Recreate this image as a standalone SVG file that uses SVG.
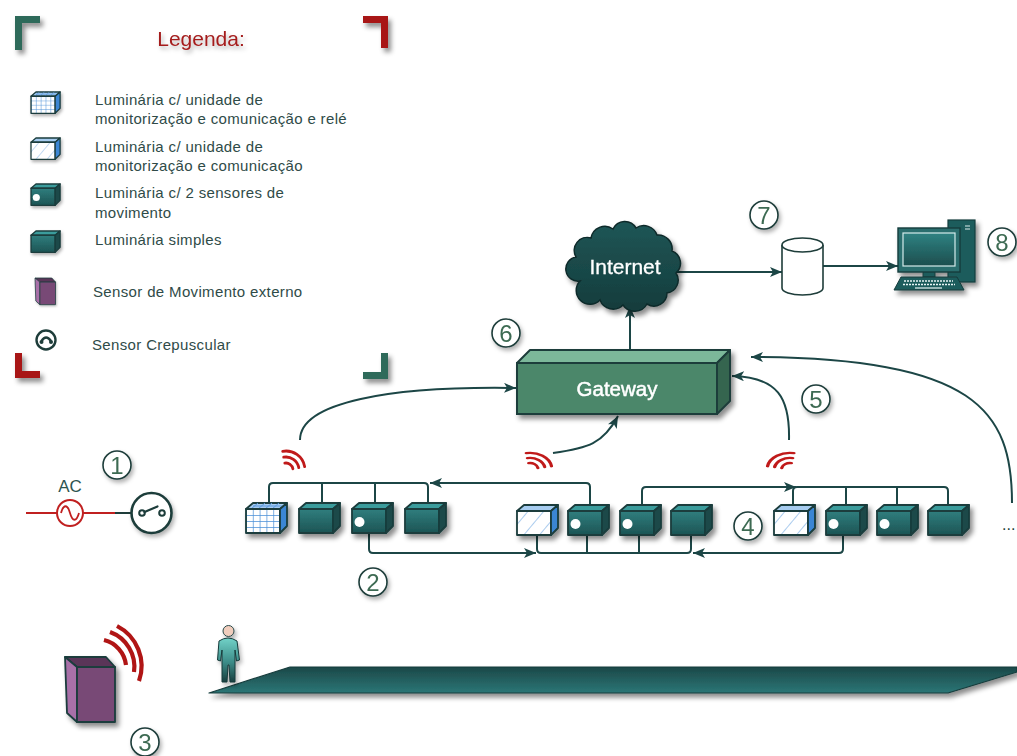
<svg xmlns="http://www.w3.org/2000/svg" xmlns:xlink="http://www.w3.org/1999/xlink" width="1017" height="756" viewBox="0 0 1017 756">
  <style>
    .legend-text { font-family: "Liberation Sans", Arial, sans-serif; font-size: 15px; letter-spacing: 0.35px; fill: #2f4b48; }
    .num-circle { fill: #ffffff; stroke: #1e3d3a; stroke-width: 1.6; }
    .num-text { font-family: "Liberation Sans", Arial, sans-serif; font-size: 24px; fill: #3d6b52; text-anchor: middle; }
    .edge { fill: none; stroke: #1c4646; stroke-width: 2; stroke-linejoin: round; }
    .edge-arrow { fill: none; stroke: #1c4646; stroke-width: 2; marker-end: url(#arrow); }
    .wave { fill: none; stroke: #c01a1a; stroke-width: 2.8; stroke-linecap: round; }
    .cube-line { stroke: #1a3c3c; stroke-width: 1.8; stroke-linejoin: round; }
    .white-label { font-family: "Liberation Sans", Arial, sans-serif; fill: #ffffff; text-anchor: middle; }
  </style>
  <defs>
    <filter id="shadow" x="-30%" y="-30%" width="170%" height="170%">
      <feDropShadow dx="3" dy="4" stdDeviation="2.5" flood-color="#000000" flood-opacity="0.45"/>
    </filter>
    <filter id="soft-shadow" x="-30%" y="-30%" width="170%" height="170%">
      <feDropShadow dx="2" dy="3" stdDeviation="2" flood-color="#000000" flood-opacity="0.3"/>
    </filter>
    <marker id="arrow" markerUnits="userSpaceOnUse" markerWidth="14" markerHeight="12" refX="12" refY="5" orient="auto">
      <path d="M0,0 L12,5 L0,10 L3,5 Z" fill="#1c4646"/>
    </marker>
    <linearGradient id="cube-front" x1="0" y1="0" x2="0" y2="1">
      <stop offset="0" stop-color="#307e7e"/>
      <stop offset="1" stop-color="#1c5454"/>
    </linearGradient>
    <linearGradient id="cloud-fill" x1="0" y1="0" x2="0" y2="1">
      <stop offset="0" stop-color="#1f5656"/>
      <stop offset="1" stop-color="#143c3c"/>
    </linearGradient>
    <linearGradient id="floor-fill" x1="0" y1="0" x2="0" y2="1">
      <stop offset="0" stop-color="#1c4848"/>
      <stop offset="1" stop-color="#2b7676"/>
    </linearGradient>
    <linearGradient id="screen-fill" x1="0" y1="0" x2="0" y2="1">
      <stop offset="0" stop-color="#2f8282"/>
      <stop offset="1" stop-color="#1c4e4e"/>
    </linearGradient>
    <linearGradient id="person-fill" x1="0" y1="0" x2="0" y2="1">
      <stop offset="0" stop-color="#72d2c8"/>
      <stop offset="0.55" stop-color="#3c8c88"/>
      <stop offset="1" stop-color="#183e3e"/>
    </linearGradient>
    <pattern id="grid" patternUnits="userSpaceOnUse" x="0" y="6" width="6.8" height="6">
      <rect width="6.8" height="6" fill="#ffffff"/>
      <path d="M0,0 H6.8 M0,0 V6" stroke="#4a8fd8" stroke-width="1.4"/>
    </pattern>
    <pattern id="hatch" patternUnits="userSpaceOnUse" x="0" y="6" width="12" height="12" patternTransform="rotate(40)">
      <rect x="-1" y="-1" width="14" height="14" fill="#ffffff"/>
      <path d="M0,-1 V13" stroke="#7eb0e6" stroke-width="1.3"/>
    </pattern>

    <!-- luminaire cubes: front face 34x24, depth 7 -->
    <g id="lum-simple">
      <path class="cube-line" d="M0,6 L7,0 L41,0 L34,6 Z" fill="#3a9c9c"/>
      <rect class="cube-line" x="0" y="6" width="34" height="24" fill="url(#cube-front)"/>
      <path class="cube-line" d="M34,6 L41,0 L41,23 L34,30 Z" fill="#1b4848"/>
    </g>
    <g id="lum-sensor">
      <use href="#lum-simple"/>
      <circle cx="7.5" cy="19" r="5" fill="#ffffff"/>
    </g>
    <g id="lum-relay">
      <path class="cube-line" d="M0,6 L7,0 L41,0 L34,6 Z" fill="#a6ccf0"/>
      <path d="M7,3 H38 M12,0 L5,6 M19,0 L12,6 M26,0 L19,6 M33,0 L26,6" stroke="#5c9ade" stroke-width="1"/>
      <rect class="cube-line" x="0" y="6" width="34" height="24" fill="url(#grid)"/>
      <path class="cube-line" d="M34,6 L41,0 L41,23 L34,30 Z" fill="#3b86d4"/>
    </g>
    <g id="lum-monitor">
      <path class="cube-line" d="M0,6 L7,0 L41,0 L34,6 Z" fill="#a6ccf0"/>
      <rect class="cube-line" x="0" y="6" width="34" height="24" fill="url(#hatch)"/>
      <path class="cube-line" d="M34,6 L41,0 L41,23 L34,30 Z" fill="#3b86d4"/>
    </g>
    <!-- external motion sensor box -->
    <g id="motion-box">
      <path class="cube-line" d="M0,0 L41,0 L50,10 L12,10 Z" fill="#5a3558"/>
      <path class="cube-line" d="M0,0 L12,10 L12,65 L2,56 Z" fill="#a870a8"/>
      <rect class="cube-line" x="12" y="10" width="38" height="55" fill="#784a76"/>
    </g>
    <!-- switch symbol -->
    <g id="switch-symbol">
      <circle cx="0" cy="0" r="20" fill="#ffffff" stroke="#1e3d3a" stroke-width="2.6"/>
      <circle cx="-9.5" cy="0" r="2.8" fill="none" stroke="#1e3d3a" stroke-width="2"/>
      <circle cx="10.5" cy="0" r="2.8" fill="none" stroke="#1e3d3a" stroke-width="2"/>
      <path d="M-7,-1 L6,-6.5" stroke="#1e3d3a" stroke-width="2.2" stroke-linecap="round"/>
    </g>
    <!-- radio waves, centred at lower-left -->
    <g id="radio-waves">
      <path class="wave" d="M-1.2,-6.9 A7,7 0 0 1 6.9,-1.2"/>
      <path class="wave" d="M-2.3,-12.8 A13,13 0 0 1 12.8,-2.3"/>
      <path class="wave" d="M-3.3,-18.7 A19,19 0 0 1 18.7,-3.3"/>
    </g>
  </defs>

  <!-- legend frame corners -->
  <g id="legend-frame" filter="url(#shadow)">
    <path d="M15,16 H40 V23 H22 V50 H15 Z" fill="#2e6a5a"/>
    <path d="M363,16 H388 V48 H381 V23 H363 Z" fill="#a81818"/>
    <path d="M15,353 H22 V371 H40 V378 H15 Z" fill="#a81818"/>
    <path d="M381,353 H388 V379 H363 V372 H381 Z" fill="#2e6a5a"/>
  </g>
  <text id="legend-title" x="201" y="46" font-family="Liberation Sans, Arial, sans-serif" font-size="21" fill="#a41c1c" text-anchor="middle" filter="url(#soft-shadow)">Legenda:</text>

  <!-- legend entries -->
  <g id="legend-relay">
    <use href="#lum-relay" transform="translate(31,92) scale(0.71)" filter="url(#soft-shadow)"/>
    <text class="legend-text" x="95" y="105">Luminária c/ unidade de</text>
    <text class="legend-text" x="95" y="124">monitorização e comunicação e relé</text>
  </g>
  <g id="legend-monitor">
    <use href="#lum-monitor" transform="translate(31,138) scale(0.71)" filter="url(#soft-shadow)"/>
    <text class="legend-text" x="95" y="152">Luminária c/ unidade de</text>
    <text class="legend-text" x="95" y="171">monitorização e comunicação</text>
  </g>
  <g id="legend-sensor">
    <use href="#lum-sensor" transform="translate(31,184) scale(0.71)" filter="url(#soft-shadow)"/>
    <text class="legend-text" x="95" y="198">Luminária c/ 2 sensores de</text>
    <text class="legend-text" x="95" y="218">movimento</text>
  </g>
  <g id="legend-simple">
    <use href="#lum-simple" transform="translate(31,231) scale(0.71)" filter="url(#soft-shadow)"/>
    <text class="legend-text" x="95" y="245">Luminária simples</text>
  </g>
  <g id="legend-motion">
    <use href="#motion-box" transform="translate(35,278) scale(0.41)" filter="url(#soft-shadow)"/>
    <text class="legend-text" x="93" y="297">Sensor de Movimento externo</text>
  </g>
  <g id="legend-dusk">
    <circle cx="46" cy="340" r="9.5" fill="#ffffff" stroke="#1e3d3a" stroke-width="2.4"/>
    <circle cx="41.5" cy="342" r="2" fill="#1e3d3a"/>
    <circle cx="51" cy="342" r="2" fill="#1e3d3a"/>
    <path d="M41.5,341 Q46,334 51,341" fill="none" stroke="#1e3d3a" stroke-width="2.4"/>
    <text class="legend-text" x="92" y="350">Sensor Crepuscular</text>
  </g>

  <!-- connectors -->
  <g id="connectors">
    <!-- lower street: luminaire bus lines -->
    <path class="edge" d="M269,503 V487 Q269,483 273,483 H424 Q428,483 428,487 V503 M322,483 V503 M375,483 V503"/>
    <path class="edge-arrow" d="M590,505 V487 Q590,483 586,483 H430"/>
    <path class="edge-arrow" d="M642,505 V491 Q642,487 646,487 H796"/>
    <path class="edge" d="M793,505 V491 Q793,487 797,487 H944 Q948,487 948,491 V505 M846,487 V505 M897,487 V505"/>
    <path class="edge-arrow" d="M369,533 V549 Q369,553 373,553 H536"/>
    <path class="edge" d="M537,535 V549 Q537,553 541,553 H687 Q691,553 691,549 V535 M587,535 V553 M639,535 V553"/>
    <path class="edge-arrow" d="M843,535 V549 Q843,553 839,553 H693"/>
    <!-- wireless links to the gateway -->
    <path class="edge-arrow" d="M300,440 C300,402 390,386 516,388"/>
    <path class="edge-arrow" d="M553,453 C588,448 603,444 618,416"/>
    <path class="edge-arrow" d="M789,440 C790,398 778,377 732,376"/>
    <path class="edge-arrow" d="M1012,503 C1012,410 975,358 751,357"/>
    <!-- gateway to internet, internet to database, database to PC -->
    <path class="edge-arrow" d="M630,350 V306"/>
    <path class="edge-arrow" d="M677,272 H782"/>
    <path class="edge-arrow" d="M823,266 H898"/>
    <!-- power feed -->
    <path d="M26,513 H57 M83,513 H115" stroke="#c02020" stroke-width="2"/>
    <path d="M115,513 H131" stroke="#1e3d3a" stroke-width="2"/>
  </g>

  <!-- AC source and dusk switch -->
  <g id="ac-source">
    <text x="70" y="492" font-family="Liberation Sans, Arial, sans-serif" font-size="17" fill="#2d5550" text-anchor="middle">AC</text>
    <circle cx="70" cy="513" r="13" fill="#ffffff" stroke="#c02020" stroke-width="2"/>
    <path d="M61,513 C63.5,504 67.5,504 70,513 S76.5,522 79,513" fill="none" stroke="#c02020" stroke-width="1.8"/>
  </g>
  <g id="dusk-switch">
    <use href="#switch-symbol" transform="translate(151.5,513)" filter="url(#soft-shadow)"/>
  </g>

  <!-- radio wave markers -->
  <g id="waves-left"><use href="#radio-waves" transform="translate(286,470)"/></g>
  <g id="waves-middle"><use href="#radio-waves" transform="translate(530,469) scale(1.15,0.85)"/></g>
  <g id="waves-right"><use href="#radio-waves" transform="translate(790,469) scale(-1.2,0.85)"/></g>

  <!-- luminaires, first segment -->
  <g id="lum-1-1" filter="url(#shadow)"><use href="#lum-relay" x="246" y="503"/></g>
  <g id="lum-1-2" filter="url(#shadow)"><use href="#lum-simple" x="299" y="503"/></g>
  <g id="lum-1-3" filter="url(#shadow)"><use href="#lum-sensor" x="352" y="503"/></g>
  <g id="lum-1-4" filter="url(#shadow)"><use href="#lum-simple" x="405" y="503"/></g>
  <!-- second segment -->
  <g id="lum-2-1" filter="url(#shadow)"><use href="#lum-monitor" x="517" y="505"/></g>
  <g id="lum-2-2" filter="url(#shadow)"><use href="#lum-sensor" x="568" y="505"/></g>
  <g id="lum-2-3" filter="url(#shadow)"><use href="#lum-sensor" x="620" y="505"/></g>
  <g id="lum-2-4" filter="url(#shadow)"><use href="#lum-simple" x="671" y="505"/></g>
  <!-- third segment -->
  <g id="lum-3-1" filter="url(#shadow)"><use href="#lum-monitor" x="774" y="505"/></g>
  <g id="lum-3-2" filter="url(#shadow)"><use href="#lum-sensor" x="826" y="505"/></g>
  <g id="lum-3-3" filter="url(#shadow)"><use href="#lum-sensor" x="877" y="505"/></g>
  <g id="lum-3-4" filter="url(#shadow)"><use href="#lum-simple" x="928" y="505"/></g>
  <text id="more" x="1002" y="530" font-family="Liberation Sans, Arial, sans-serif" font-size="16" fill="#1e3d3a">...</text>

  <!-- gateway -->
  <g id="gateway" filter="url(#shadow)">
    <path d="M517,363 L530,350 L730,350 L717,363 Z" fill="#7bb89a" stroke="#1e3d3a" stroke-width="2" stroke-linejoin="round"/>
    <rect x="517" y="363" width="200" height="51" fill="#4b876a" stroke="#1e3d3a" stroke-width="2"/>
    <path d="M717,363 L730,350 L730,401 L717,414 Z" fill="#366550" stroke="#1e3d3a" stroke-width="2" stroke-linejoin="round"/>
    <text class="white-label" x="617" y="396" font-size="20.5" stroke="#ffffff" stroke-width="0.5">Gateway</text>
  </g>

  <!-- internet cloud -->
  <g id="internet" filter="url(#shadow)">
    <path d="M580,281 A12,12 0 0 1 576,257 A13,13 0 0 1 591,238 A14,14 0 0 1 613,229 A13,13 0 0 1 636,228 A14,14 0 0 1 657,235 A14,14 0 0 1 672,251 A13,13 0 0 1 676,273 A13,13 0 0 1 667,293 A13,13 0 0 1 647,304 A14,14 0 0 1 623,305 A14,14 0 0 1 600,300 A12,12 0 0 1 580,281 Z" fill="url(#cloud-fill)" stroke="#0e2a2a" stroke-width="1.5"/>
    <text class="white-label" x="625" y="274" font-size="21" stroke="#ffffff" stroke-width="0.3">Internet</text>
  </g>

  <!-- database -->
  <g id="database">
    <path d="M782,245 V288 A20.5,7 0 0 0 823,288 V245" fill="#ffffff" stroke="#1e3d3a" stroke-width="1.6"/>
    <ellipse cx="802.5" cy="245" rx="20.5" ry="7" fill="#ffffff" stroke="#1e3d3a" stroke-width="1.6"/>
  </g>

  <!-- workstation -->
  <g id="workstation" filter="url(#shadow)">
    <rect x="948" y="220" width="27" height="62" fill="#1f5b5b" stroke="#163c3c" stroke-width="1.2"/>
    <path d="M965,226 H970 M965,229 H970" stroke="#d8eeee" stroke-width="1.2"/>
    <rect x="923" y="271" width="12" height="6" fill="#1f5b5b" stroke="#163c3c" stroke-width="1"/>
    <rect x="898" y="228" width="62" height="44" fill="#2a6e6e" stroke="#163c3c" stroke-width="1.4"/>
    <rect x="903" y="233" width="52" height="33" fill="url(#screen-fill)" stroke="#d4ecec" stroke-width="1.2"/>
    <path d="M901,277 H957 L964,290 H894 Z" fill="#1f5b5b" stroke="#163c3c" stroke-width="1"/>
    <path d="M904,281 H953 M903,284.5 H955" stroke="#e6f4f4" stroke-width="1.4" stroke-dasharray="2,1"/>
    <path d="M915,288 H942" stroke="#e6f4f4" stroke-width="1.2"/>
  </g>

  <!-- street floor and pedestrian -->
  <g id="floor" filter="url(#shadow)">
    <path d="M209,693 L290,667 L1017,667 L1017,672 L948,693 Z" fill="url(#floor-fill)" stroke="#163c3c" stroke-width="1.2" stroke-linejoin="round"/>
  </g>
  <g id="pedestrian" filter="url(#soft-shadow)">
    <path d="M219,641 Q228,635 237,641 L239.5,660 L236.5,661 L235,650 L235,682 L230,682 L229,665 L228,665 L227,682 L222,682 L222,650 L220.5,661 L217.5,660 Z" fill="url(#person-fill)" stroke="#163a3a" stroke-width="1"/>
    <circle cx="228.5" cy="631" r="5.5" fill="#f0cdbd" stroke="#2a4a4a" stroke-width="1"/>
  </g>

  <!-- external motion sensor -->
  <g id="motion-sensor">
    <use href="#motion-box" transform="translate(65,657)" filter="url(#shadow)"/>
    <path d="M104,640 A29,29 0 0 1 126,665" fill="none" stroke="#b01515" stroke-width="4.2"/>
    <path d="M110,632 A37,37 0 0 1 134,672" fill="none" stroke="#b01515" stroke-width="4.2"/>
    <path d="M117,626 A45,45 0 0 1 139,681" fill="none" stroke="#b01515" stroke-width="4.2"/>
  </g>

  <!-- step markers -->
  <g id="step-1" filter="url(#soft-shadow)"><circle class="num-circle" cx="117" cy="465" r="14"/><text class="num-text" x="117" y="473.5">1</text></g>
  <g id="step-2" filter="url(#soft-shadow)"><circle class="num-circle" cx="373" cy="582" r="14"/><text class="num-text" x="373" y="590.5">2</text></g>
  <g id="step-3" filter="url(#soft-shadow)"><circle class="num-circle" cx="145" cy="742" r="14"/><text class="num-text" x="145" y="750.5">3</text></g>
  <g id="step-4" filter="url(#soft-shadow)"><circle class="num-circle" cx="748" cy="526" r="14"/><text class="num-text" x="748" y="534.5">4</text></g>
  <g id="step-5" filter="url(#soft-shadow)"><circle class="num-circle" cx="816" cy="399" r="14"/><text class="num-text" x="816" y="407.5">5</text></g>
  <g id="step-6" filter="url(#soft-shadow)"><circle class="num-circle" cx="506" cy="333" r="14"/><text class="num-text" x="506" y="341.5">6</text></g>
  <g id="step-7" filter="url(#soft-shadow)"><circle class="num-circle" cx="764" cy="215" r="14"/><text class="num-text" x="764" y="223.5">7</text></g>
  <g id="step-8" filter="url(#soft-shadow)"><circle class="num-circle" cx="1002" cy="242" r="14"/><text class="num-text" x="1002" y="250.5">8</text></g>
</svg>
